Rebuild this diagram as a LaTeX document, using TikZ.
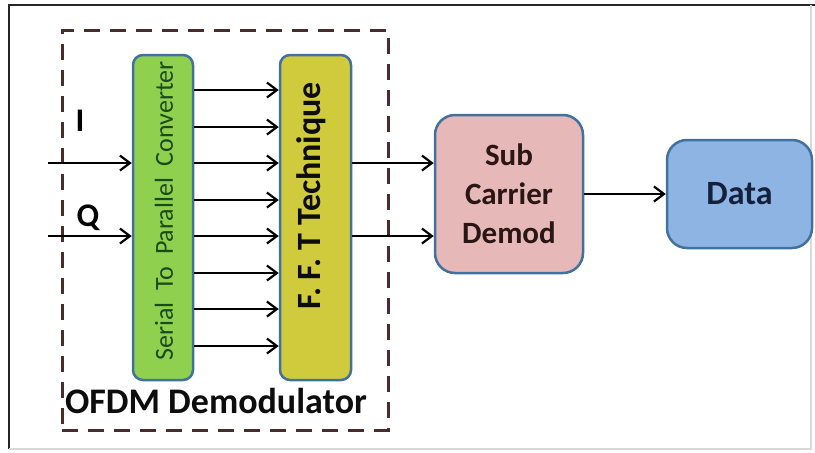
\documentclass[tikz,border=0pt]{standalone}
\usepackage{fontspec}
\setmainfont{Carlito}
\usetikzlibrary{arrows.meta}

\definecolor{edgeblue}{HTML}{41719C}
\definecolor{s2pfill}{HTML}{8FD14F}
\definecolor{fftfill}{HTML}{CFCB3C}
\definecolor{subfill}{HTML}{E6B9B8}
\definecolor{datafill}{HTML}{8EB4E3}
\definecolor{dashbrown}{HTML}{4A2C2C}
\definecolor{s2ptext}{HTML}{1A4A1A}
\definecolor{subtext}{HTML}{2B1616}
\definecolor{datatext}{HTML}{14213D}

\tikzset{
  block/.style={draw=edgeblue, line width=2.5pt, rectangle, inner sep=0pt},
  arr/.style={draw=black, line width=2.2pt, -{Straight Barb[length=10pt,width=15pt,line width=2.2pt]}},
  dashbox/.style={draw=dashbrown, line width=3pt, dash pattern=on 16pt off 10pt},
}

\begin{document}
\begin{tikzpicture}[x=1pt,y=-1pt]
  \useasboundingbox (0,0) rectangle (815,453);
  \fill[white] (0,0) rectangle (815,453);

  % outer frame
  \draw[black!85, line width=2pt] (9,449) -- (9,5) -- (815,5);
  \draw[black!15, line width=1.5pt] (9,449) -- (811,449) -- (811,5);

  % dashed demodulator boundary
  \node[dashbox, rectangle, minimum width=326pt, minimum height=400pt, inner sep=0pt] (demod) at (225,230) {};
  \node[anchor=base, font=\fontsize{36}{42}\selectfont\bfseries, text=black!95] (demodlabel) at (216,413) {OFDM Demodulator};

  % blocks
  \node[block, fill=s2pfill, rounded corners=10pt, minimum width=60pt, minimum height=325pt] (s2p) at (163,217.5) {};
  \node[rotate=90, font=\fontsize{26}{30}\selectfont, text=s2ptext] (s2ptxt) at (164,211) {Serial~~To~~Parallel~~Converter};

  \node[block, fill=fftfill, rounded corners=10pt, minimum width=71pt, minimum height=325pt] (fft) at (315.5,217.5) {};
  \node[rotate=90, font=\fontsize{34}{38}\selectfont\bfseries, text=black!95] (ffttxt) at (311,196) {F. F. T Technique};

  \node[block, fill=subfill, rounded corners=20pt, minimum width=148pt, minimum height=158pt,
        align=center, font=\fontsize{31}{39}\selectfont\bfseries, text=subtext] (sub) at (509,194) {Sub\\Carrier\\Demod};

  \node[block, fill=datafill, rounded corners=20pt, minimum width=145pt, minimum height=108pt,
        font=\fontsize{34}{40}\selectfont\bfseries, text=datatext] (data) at (739.5,194) {Data};

  % inputs
  \coordinate (inI) at (48,163);
  \coordinate (inQ) at (48,236);
  \draw[arr] (inI) -- (s2p.west |- inI);
  \draw[arr] (inQ) -- (s2p.west |- inQ);
  \node[font=\fontsize{33}{38}\selectfont\bfseries] (lblI) at (80,121) {I};
  \node[font=\fontsize{33}{38}\selectfont\bfseries] (lblQ) at (88,218) {Q};

  % parallel lines into the FFT
  \foreach \yy [count=\k] in {90,127,163,200,236,273,309,346} {
    \coordinate (row\k) at (0,\yy);
    \draw[arr] (s2p.east |- row\k) -- (fft.west |- row\k);
  }

  % FFT to demapper, demapper to data
  \draw[arr] (fft.east |- inI) -- (sub.west |- inI);
  \draw[arr] (fft.east |- inQ) -- (sub.west |- inQ);
  \draw[arr] (sub.east) -- (data.west);
\end{tikzpicture}
\end{document}
